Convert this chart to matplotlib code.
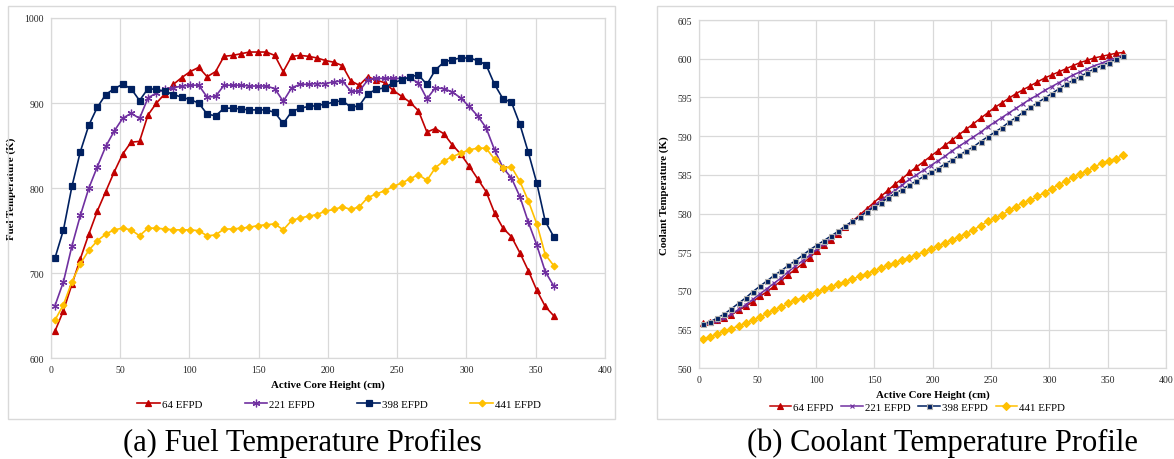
import matplotlib
matplotlib.use('Agg')
import matplotlib.pyplot as plt
from matplotlib.patches import Rectangle

plt.rcParams['font.family'] = ['Liberation Serif', 'DejaVu Serif']

# Axial positions (cm) of the 60 nodes
height = [3.1, 9.2, 15.3, 21.4, 27.5, 33.6, 39.7, 45.8, 51.9, 58.0,
          64.1, 70.2, 76.3, 82.4, 88.5, 94.6, 100.7, 106.8, 112.9, 119.0,
          125.1, 131.2, 137.3, 143.4, 149.5, 155.6, 161.7, 167.8, 173.9, 180.0,
          186.1, 192.2, 198.3, 204.4, 210.5, 216.6, 222.7, 228.8, 234.9, 241.0,
          247.1, 253.2, 259.3, 265.4, 271.5, 277.6, 283.7, 289.8, 295.9, 302.0,
          308.1, 314.2, 320.3, 326.4, 332.5, 338.6, 344.7, 350.8, 356.9, 363.0]

labels = ['64 EFPD', '221 EFPD', '398 EFPD', '441 EFPD']
colors = ['#C00000', '#7030A0', '#002060', '#FFC000']

# Fuel temperature (K)
fuel_64 = [632, 656, 687, 717, 746, 773, 796, 819, 840, 854,
           855, 886, 900, 911, 922, 930, 937, 942, 931, 937,
           955, 956, 958, 960, 960, 960, 956, 937, 955, 956,
           955, 953, 950, 948, 944, 926, 921, 931, 927, 924,
           915, 908, 901, 891, 866, 870, 864, 851, 840, 826,
           811, 796, 771, 753, 743, 724, 703, 680, 661, 650]
fuel_221 = [662, 690, 732, 768, 800, 825, 849, 867, 882, 888,
            882, 906, 912, 916, 918, 920, 921, 921, 907, 908,
            921, 921, 921, 920, 920, 920, 917, 902, 918, 922,
            922, 923, 923, 925, 926, 914, 914, 927, 929, 929,
            929, 929, 929, 924, 905, 918, 917, 913, 906, 896,
            885, 871, 845, 824, 812, 790, 760, 733, 702, 685]
fuel_398 = [718, 751, 802, 843, 874, 895, 910, 917, 922, 917,
            903, 917, 916, 914, 910, 907, 904, 900, 887, 885,
            894, 894, 893, 892, 892, 892, 889, 876, 890, 894,
            896, 897, 899, 901, 903, 895, 897, 911, 916, 918,
            924, 927, 931, 933, 922, 939, 948, 951, 953, 953,
            950, 945, 922, 905, 901, 875, 842, 806, 761, 743]
fuel_441 = [645, 663, 690, 711, 727, 738, 746, 751, 753, 751,
            744, 753, 753, 752, 751, 751, 751, 750, 744, 745,
            752, 752, 753, 754, 756, 757, 758, 751, 762, 765,
            767, 769, 773, 775, 778, 775, 778, 789, 793, 797,
            802, 806, 811, 816, 809, 824, 832, 837, 841, 845,
            847, 847, 834, 824, 825, 808, 785, 758, 722, 709]

# Coolant temperature (K)
cool_64 = [565.8, 566.0, 566.2, 566.5, 566.9, 567.5, 568.0, 568.6, 569.3, 569.9,
           570.6, 571.3, 572.1, 572.8, 573.5, 574.3, 575.2, 575.9, 576.6, 577.4,
           578.2, 579.0, 579.8, 580.6, 581.4, 582.2, 583.0, 583.8, 584.5, 585.3,
           586.0, 586.7, 587.4, 588.1, 588.8, 589.5, 590.2, 590.9, 591.6, 592.3,
           593.0, 593.7, 594.3, 594.9, 595.5, 596.0, 596.5, 597.0, 597.5, 597.9,
           598.3, 598.7, 599.1, 599.5, 599.8, 600.1, 600.3, 600.5, 600.7, 600.8]
cool_221 = [565.6, 565.8, 566.1, 566.5, 567.0, 567.6, 568.2, 568.9, 569.6, 570.3,
            571.0, 571.7, 572.5, 573.2, 573.9, 574.6, 575.4, 576.1, 576.8, 577.5,
            578.2, 578.9, 579.6, 580.3, 581.0, 581.7, 582.4, 583.0, 583.7, 584.4,
            585.0, 585.6, 586.2, 586.8, 587.4, 588.1, 588.7, 589.3, 589.9, 590.5,
            591.2, 591.8, 592.4, 593.0, 593.6, 594.2, 594.8, 595.3, 595.9, 596.4,
            596.9, 597.4, 597.9, 598.3, 598.7, 599.1, 599.4, 599.8, 600.1, 600.4]
cool_398 = [565.7, 566.0, 566.5, 567.0, 567.7, 568.4, 569.1, 569.9, 570.6, 571.3,
            572.0, 572.6, 573.3, 573.9, 574.6, 575.3, 575.9, 576.5, 577.1, 577.7,
            578.4, 579.0, 579.6, 580.2, 580.8, 581.4, 582.0, 582.6, 583.1, 583.7,
            584.2, 584.8, 585.3, 585.8, 586.4, 586.9, 587.5, 588.1, 588.6, 589.3,
            589.9, 590.5, 591.1, 591.8, 592.4, 593.1, 593.7, 594.3, 594.9, 595.5,
            596.1, 596.7, 597.2, 597.7, 598.2, 598.7, 599.1, 599.5, 599.9, 600.3]
cool_441 = [563.8, 564.0, 564.4, 564.8, 565.1, 565.5, 565.8, 566.2, 566.6, 567.1,
            567.5, 567.9, 568.4, 568.8, 569.1, 569.5, 569.8, 570.2, 570.5, 570.9,
            571.2, 571.5, 571.9, 572.2, 572.6, 572.9, 573.3, 573.6, 574.0, 574.3,
            574.6, 575.0, 575.4, 575.8, 576.2, 576.6, 577.0, 577.4, 577.9, 578.4,
            579.0, 579.4, 579.8, 580.4, 580.9, 581.4, 581.7, 582.2, 582.7, 583.2,
            583.7, 584.2, 584.7, 585.1, 585.5, 586.0, 586.5, 586.8, 587.1, 587.5]

fuel_series = [fuel_64, fuel_221, fuel_398, fuel_441]
cool_series = [cool_64, cool_221, cool_398, cool_441]

GRID = '#D9D9D9'


def style_axes(ax, xlabel, ylabel, ylim, yticks):
    ax.set_xlim(0, 400)
    ax.set_ylim(*ylim)
    ax.set_xticks(range(0, 401, 50))
    ax.set_yticks(yticks)
    ax.grid(True, color=GRID, linewidth=0.9)
    ax.set_axisbelow(True)
    for s in ax.spines.values():
        s.set_color(GRID)
        s.set_linewidth(0.9)
    ax.tick_params(length=0, labelsize=7, pad=5, colors='#262626')
    ax.set_xlabel(xlabel, fontsize=7.8, fontweight='bold', labelpad=4)
    ax.set_ylabel(ylabel, fontsize=7.8, fontweight='bold', labelpad=6)


fig = plt.figure(figsize=(11.74, 4.6), dpi=100)

# panel frames
fig.patches.append(Rectangle((0.0068, 0.087), 0.517, 0.898, transform=fig.transFigure,
                             fill=False, edgecolor=GRID, linewidth=1.0))
fig.patches.append(Rectangle((0.5594, 0.087), 0.46, 0.898, transform=fig.transFigure,
                             fill=False, edgecolor=GRID, linewidth=1.0))

# (a) fuel temperature
ax1 = fig.add_axes([0.0432, 0.2189, 0.4721, 0.7398])
fuel_markers = ['^', (6, 2, 0), 's', 'D']
fuel_ms = [4.5, 5.5, 4.2, 3.4]
lines = []
for y, c, m, ms, lab in zip(fuel_series, colors, fuel_markers, fuel_ms, labels):
    ln, = ax1.plot(height, y, color=c, marker=m, markersize=ms, linewidth=1.2,
                   markeredgewidth=0.9, label=lab)
    lines.append(ln)
style_axes(ax1, 'Active Core Height (cm)', 'Fuel Temperature (K)',
           (600, 1000), range(600, 1001, 100))
fig.legend(handles=lines, loc='center', bbox_to_anchor=(0.2888, 0.1196), ncol=4,
           frameon=False, fontsize=7.8, handlelength=2.1, handletextpad=0.2,
           columnspacing=3.9)

# (b) coolant temperature
ax2 = fig.add_axes([0.5957, 0.1972, 0.3975, 0.7571])
cool_markers = ['^', 'x', 's', 'D']
cool_ms = [4.0, 3.5, 3.6, 3.6]
cool_edges = ['#C00000', '#7030A0', '#B0B0B0', '#FFC000']
lines2 = []
for y, c, m, ms, ec, lab in zip(cool_series, colors, cool_markers, cool_ms, cool_edges, labels):
    ln, = ax2.plot(height, y, color=c, marker=m, markersize=ms, linewidth=1.1,
                   markeredgecolor=ec, markeredgewidth=0.8, label=lab)
    lines2.append(ln)
style_axes(ax2, 'Active Core Height (cm)', 'Coolant Temperature (K)',
           (560, 605), range(560, 606, 5))
fig.legend(handles=lines2, loc='center', bbox_to_anchor=(0.7815, 0.113), ncol=4,
           frameon=False, fontsize=7.8, handlelength=2.0, handletextpad=0.2,
           columnspacing=0.7)

# captions
fig.text(0.2575, 0.037, '(a) Fuel Temperature Profiles', ha='center', va='center', fontsize=22)
fig.text(0.8025, 0.037, '(b) Coolant Temperature Profile', ha='center', va='center', fontsize=22)

fig.savefig('out.png', dpi=100)
